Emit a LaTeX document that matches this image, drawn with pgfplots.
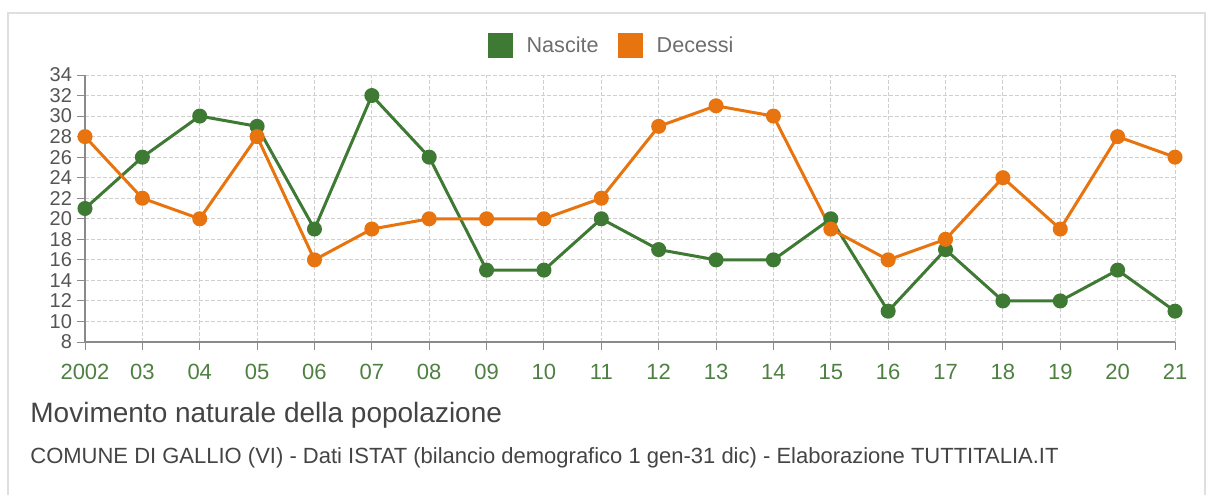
\documentclass[border=0pt]{standalone}
\usepackage{fontspec}
\setmainfont{Liberation Sans}
\usepackage{pgfplots}
\pgfplotsset{compat=1.18}
\definecolor{nasc}{HTML}{3F7A34}
\definecolor{dec}{HTML}{E8740F}
\definecolor{txt}{HTML}{555555}
\definecolor{xlab}{HTML}{4E8042}
\definecolor{gridc}{HTML}{CFCFCF}
\definecolor{axc}{HTML}{8A8A8A}
\begin{document}
\begin{tikzpicture}
\useasboundingbox (-42.5pt,-76pt) rectangle (564pt,171pt);
\draw[color=gray!25, line width=1pt] (-38.5pt,-80pt) -- (-38.5pt,164.5pt) -- (560pt,164.5pt) -- (560pt,-80pt);
\begin{axis}[
  at={(0pt,0pt)}, anchor=south west,
  scale only axis, width=545pt, height=133.5pt,
  xmin=0, xmax=19, ymin=8, ymax=34,
  xtick={0,...,19},
  xticklabels={2002,03,04,05,06,07,08,09,10,11,12,13,14,15,16,17,18,19,20,21},
  ytick={8,10,...,34},
  axis x line*=bottom, axis y line*=left,
  axis line style={axc, line width=0.6pt, -},
  tick style={axc, line width=0.5pt},
  tick align=outside, major tick length=4pt,
  grid=major,
  major grid style={gridc, dash pattern=on 2pt off 1pt, line width=0.5pt},
  xticklabel style={font=\fontsize{11}{12}\selectfont, text=xlab, yshift=-3.5pt},
  yticklabel style={font=\fontsize{10}{11}\selectfont, text=txt, xshift=1pt},
  /pgf/number format/assume math mode=true,
  legend columns=2,
  legend style={at={(0.484,1.109)}, anchor=center, draw=none, fill=none,
    font=\fontsize{10.8}{12}\selectfont, text=txt!85,
    /tikz/every odd column/.append style={column sep=5pt},
    /tikz/every even column/.append style={column sep=7.5pt}},
  legend image code/.code={\fill[#1] (0pt,-5.5pt) rectangle (11pt,5.5pt);},
  clip=false,
]
\addplot[color=nasc, line width=1.5pt, mark=*, mark size=3pt] coordinates {
(0,21)(1,26)(2,30)(3,29)(4,19)(5,32)(6,26)(7,15)(8,15)(9,20)
(10,17)(11,16)(12,16)(13,20)(14,11)(15,17)(16,12)(17,12)(18,15)(19,11)};
\addlegendentry{Nascite}
\addplot[color=dec, line width=1.5pt, mark=*, mark size=3pt] coordinates {
(0,28)(1,22)(2,20)(3,28)(4,16)(5,19)(6,20)(7,20)(8,20)(9,22)
(10,29)(11,31)(12,30)(13,19)(14,16)(15,18)(16,24)(17,19)(18,28)(19,26)};
\addlegendentry{Decessi}
\end{axis}
\node[anchor=west, inner sep=0pt, text=txt!80!black, font=\fontsize{14}{16}\selectfont] at (-27.5pt,-36.5pt) {Movimento naturale della popolazione};
\node[anchor=west, inner sep=0pt, text=txt!80!black, font=\fontsize{11}{12}\selectfont] at (-27.5pt,-58pt) {COMUNE DI GALLIO (VI) - Dati ISTAT (bilancio demografico 1 gen-31 dic) - Elaborazione TUTTITALIA.IT};
\end{tikzpicture}
\end{document}
